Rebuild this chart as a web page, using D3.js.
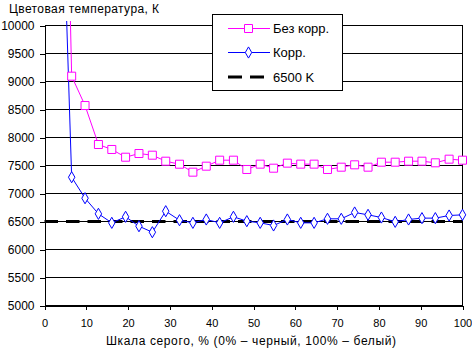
<!DOCTYPE html>
<html><head><meta charset="utf-8">
<script src="https://cdn.jsdelivr.net/npm/d3@7/dist/d3.min.js"></script>
<style>
html,body{margin:0;padding:0;background:#fff;}
svg{display:block;font-family:"Liberation Sans",Arial,sans-serif;}
</style></head>
<body>
<svg id="c" width="472" height="349"></svg>
<script>
const grayPct = [0, 3.2, 6.5, 9.7, 12.9, 16.1, 19.4, 22.6, 25.8, 29.0, 32.3, 35.5, 38.7, 41.9, 45.2, 48.4, 51.6, 54.8, 58.1, 61.3, 64.5, 67.7, 71.0, 74.2, 77.4, 80.6, 83.9, 87.1, 90.3, 93.5, 96.8, 100];
const uncorrected = [30000, 20000, 9095, 8571, 7875, 7786, 7648, 7714, 7684, 7577, 7523, 7381, 7488, 7595, 7595, 7429, 7524, 7452, 7542, 7524, 7524, 7429, 7470, 7512, 7470, 7559, 7559, 7577, 7577, 7548, 7613, 7595];
const corrected = [25000, 15000, 7291, 6916, 6637, 6476, 6584, 6416, 6309, 6684, 6523, 6476, 6536, 6476, 6584, 6506, 6476, 6429, 6536, 6476, 6476, 6548, 6548, 6661, 6619, 6571, 6494, 6536, 6560, 6560, 6607, 6619];
const reference = 6500;
const xTicks = [0, 10, 20, 30, 40, 50, 60, 70, 80, 90, 100];
const yTicks = [5000, 5500, 6000, 6500, 7000, 7500, 8000, 8500, 9000, 9500, 10000];
const seriesNames = ["Без корр.", "Корр.", "6500 K"];
const titleY = "Цветовая температура, К";
const titleX = "Шкала серого, % (0% – черный, 100% – белый)";

const svg = d3.select("#c");
const x = d3.scaleLinear().domain([0, 100]).range([44.5, 462.5]);
const y = d3.scaleLinear().domain([5000, 10000]).range([305.5, 25.5]);

svg.append("defs").append("clipPath").attr("id", "clip")
  .append("rect").attr("x", 44).attr("y", 21).attr("width", 420).attr("height", 286);

// gridlines
svg.append("g").selectAll("line").data(yTicks).join("line")
  .attr("x1", x(0)).attr("x2", x(100)).attr("y1", d => y(d)).attr("y2", d => y(d))
  .attr("stroke", "#000").attr("stroke-width", 1).attr("shape-rendering", "crispEdges");
// right border
svg.append("line").attr("x1", x(100)).attr("x2", x(100)).attr("y1", y(10000)).attr("y2", y(5000))
  .attr("stroke", "#000").attr("shape-rendering", "crispEdges");

// axes
const yAxis = d3.axisLeft(y).tickValues(yTicks).tickSize(5).tickPadding(5).tickFormat(d3.format("d"));
const gy = svg.append("g").attr("transform", `translate(${x(0)},0)`).call(yAxis);
const xAxis = d3.axisBottom(x).tickValues(xTicks).tickSize(4).tickPadding(10).tickFormat(d3.format("d"));
const gx = svg.append("g").attr("transform", `translate(0,${y(5000)})`).call(xAxis);
[gx, gy].forEach(g => {
  g.select(".domain").attr("stroke", "#000").attr("shape-rendering", "crispEdges");
  g.selectAll(".tick line").attr("stroke", "#000").attr("shape-rendering", "crispEdges");
  g.selectAll("text").attr("fill", "#000").attr("font-family", "Liberation Sans, Arial, sans-serif");
});
gy.selectAll("text").attr("font-size", 12);
gx.selectAll("text").attr("font-size", 11);

// reference dashed line
svg.append("line").attr("x1", x(0)).attr("x2", x(100)).attr("y1", y(reference)).attr("y2", y(reference))
  .attr("stroke", "#000").attr("stroke-width", 3).attr("stroke-dasharray", "13.5,8");

const line = d3.line().x((d, i) => x(grayPct[i])).y(d => y(d));
const plot = svg.append("g").attr("clip-path", "url(#clip)");
plot.append("path").datum(uncorrected).attr("d", line).attr("fill", "none").attr("stroke", "#ff00ff").attr("stroke-width", 1);
plot.append("path").datum(corrected).attr("d", line).attr("fill", "none").attr("stroke", "#0000ff").attr("stroke-width", 1);

const sq = d3.symbol().type(d3.symbolSquare).size(64);
const dm = d3.symbol().type(d3.symbolDiamond).size(36);
const vis = (arr) => arr.map((v, i) => ({v, i})).filter(d => d.v <= 10000);
svg.append("g").selectAll("path").data(vis(uncorrected)).join("path")
  .attr("d", sq).attr("transform", d => `translate(${x(grayPct[d.i])},${y(d.v)})`)
  .attr("fill", "#fff").attr("stroke", "#ff00ff").attr("stroke-width", 1);
svg.append("g").selectAll("path").data(vis(corrected)).join("path")
  .attr("d", dm).attr("transform", d => `translate(${x(grayPct[d.i])},${y(d.v)})`)
  .attr("fill", "#fff").attr("stroke", "#0000ff").attr("stroke-width", 1);

// legend
const lg = svg.append("g");
lg.append("rect").attr("x", 212.5).attr("y", 14.5).attr("width", 130).attr("height", 76)
  .attr("fill", "#fff").attr("stroke", "#000").attr("shape-rendering", "crispEdges");
const rows = [28.5, 52.5, 77];
lg.append("line").attr("x1", 228).attr("x2", 270).attr("y1", rows[0]).attr("y2", rows[0]).attr("stroke", "#ff00ff");
lg.append("path").attr("d", sq).attr("transform", `translate(248.5,${rows[0]})`).attr("fill", "#fff").attr("stroke", "#ff00ff");
lg.append("line").attr("x1", 228).attr("x2", 270).attr("y1", rows[1]).attr("y2", rows[1]).attr("stroke", "#0000ff");
lg.append("path").attr("d", dm).attr("transform", `translate(248.5,${rows[1]})`).attr("fill", "#fff").attr("stroke", "#0000ff");
lg.append("line").attr("x1", 228).attr("x2", 264).attr("y1", rows[2]).attr("y2", rows[2]).attr("stroke", "#000")
  .attr("stroke-width", 3).attr("stroke-dasharray", "14,8");
lg.selectAll("text").data(seriesNames).join("text")
  .attr("x", 273).attr("y", (d, i) => rows[i]).attr("dy", "0.36em")
  .attr("font-size", 13).text(d => d);

// titles
svg.append("text").attr("x", 9).attr("y", 13).attr("font-size", 12)
  .attr("textLength", 150).attr("lengthAdjust", "spacing").text(titleY);
svg.append("text").attr("x", 251).attr("y", 345).attr("text-anchor", "middle").attr("font-size", 12)
  .attr("textLength", 290).attr("lengthAdjust", "spacing").text(titleX);
</script>
</body></html>
